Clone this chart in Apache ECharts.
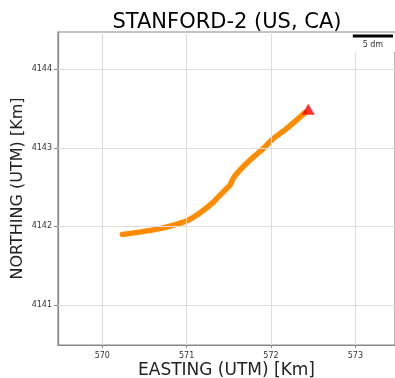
<!DOCTYPE html>
<html><head><meta charset="utf-8">
<script src="https://cdn.jsdelivr.net/npm/echarts@6/dist/echarts.min.js"></script>
<style>html,body{margin:0;padding:0;background:#fff}#c{width:395px;height:378px}</style>
</head><body><div id="c"></div>
<script>
const titleText = 'STANFORD-2 (US, CA)';
const xName = 'EASTING (UTM) [Km]';
const yName = 'NORTHING (UTM) [Km]';
const easting = [570.238,570.443,570.681,570.838,570.998,571.156,571.314,571.432,571.512,571.551,571.610,571.749,571.907,572.026,572.185,572.343,572.403];
const northing = [4141.898,4141.927,4141.971,4142.013,4142.068,4142.172,4142.306,4142.437,4142.522,4142.608,4142.692,4142.841,4142.990,4143.117,4143.245,4143.392,4143.448];
const endPoint = [572.442, 4143.490];
const xTicks = [570, 571, 572, 573];
const yTicks = [4141, 4142, 4143, 4144];
const scaleLenKm = 0.5;
const scaleLabel = '5 dm';

const chart = echarts.init(document.getElementById('c'), null, {renderer: 'canvas'});
const trackData = easting.map((e, i) => [e, northing[i]]);
const xMin = 569.475, xMax = 573.47, yMin = 4140.49, yMax = 4144.475;
const labelFont = {fontFamily: 'DejaVu Sans', fontSize: 8, color: '#333'};
chart.setOption({
  animation: false,
  title: {text: titleText, left: 222, textAlign: 'center', top: 7,
    textStyle: {fontFamily: 'DejaVu Sans', fontSize: 21, fontWeight: 'normal', color: '#000'}},
  grid: {left: 58, right: 0, top: 32, bottom: 33, show: true, borderColor: '#888', borderWidth: 1.2,
    outerBoundsMode: 'none', containLabel: false},
  xAxis: {type: 'value', min: xMin, max: xMax, name: xName, nameLocation: 'middle', nameGap: 26,
    nameMoveOverlap: false,
    nameTextStyle: {fontFamily: 'DejaVu Sans', fontSize: 17, color: '#222', verticalAlign: 'middle'},
    axisLine: {show: true, onZero: false, lineStyle: {color: '#888', width: 1.2}},
    axisTick: {show: true, length: 3, lineStyle: {color: '#888'}, customValues: xTicks},
    axisLabel: Object.assign({margin: 7, customValues: xTicks, formatter: v => String(Math.round(v))}, labelFont),
    splitLine: {show: false}},
  yAxis: {type: 'value', min: yMin, max: yMax, name: yName, nameLocation: 'middle', nameGap: 40,
    nameMoveOverlap: false,
    nameTextStyle: {fontFamily: 'DejaVu Sans', fontSize: 16, color: '#222', verticalAlign: 'middle'},
    axisLine: {show: true, onZero: false, lineStyle: {color: '#888', width: 1.2}},
    axisTick: {show: true, length: 4, lineStyle: {color: '#888'}, customValues: yTicks},
    axisLabel: Object.assign({margin: 6, customValues: yTicks, formatter: v => String(Math.round(v))}, labelFont),
    splitLine: {show: false}},
  series: [
    {type: 'line', data: trackData, showSymbol: false, smooth: 0.15,
     lineStyle: {color: '#ff8c00', width: 5.5, cap: 'round', join: 'round'}, z: 3},
    {type: 'scatter', data: [endPoint], symbol: 'triangle', symbolSize: [13, 11],
     itemStyle: {color: '#ff0000'}, z: 4},
    {type: 'line', data: [], markLine: {silent: true, symbol: 'none', label: {show: false},
      lineStyle: {color: '#ddd', width: 1, type: 'solid'},
      data: xTicks.map(v => ({xAxis: v})).concat(yTicks.map(v => ({yAxis: v})))}, z: 1}
  ]
});
// scale bar anchored at upper-right in data units
const pR = chart.convertToPixel({gridIndex: 0}, [xMax, yMax]);
const pL = chart.convertToPixel({gridIndex: 0}, [xMax - scaleLenKm, yMax]);
const barY = pR[1] + 4;
chart.setOption({graphic: [
  {type: 'rect', shape: {x: pL[0] - 4, y: pR[1] + 1, width: pR[0] - pL[0] + 4, height: 19}, style: {fill: '#fff'}, z: 10},
  {type: 'line', shape: {x1: pL[0], y1: barY, x2: pR[0] - 2, y2: barY}, style: {stroke: '#000', lineWidth: 3}, z: 11},
  {type: 'text', x: (pL[0] + pR[0] - 2) / 2, y: barY + 5, style: {text: scaleLabel, fontFamily: 'DejaVu Sans', fontSize: 8, fill: '#333', textAlign: 'center'}, z: 11}
]});
</script></body></html>
